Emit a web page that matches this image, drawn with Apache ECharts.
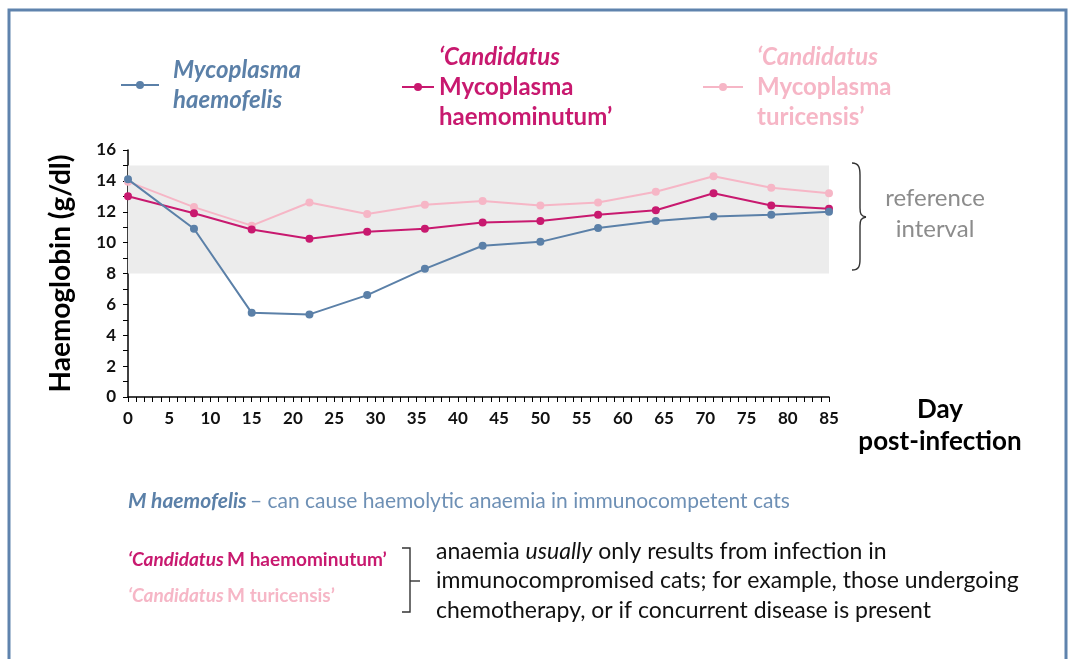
<!DOCTYPE html>
<html>
<head>
<meta charset="utf-8">
<script src="https://cdn.jsdelivr.net/npm/echarts@6/dist/echarts.min.js"></script>
<style>
  html, body { margin: 0; padding: 0; background: #fff; }
  #main { width: 1076px; height: 659px; }
</style>
</head>
<body>
<div id="main"></div>
<script>
// days sampled post infection
var days = [0, 8, 15, 22, 29, 36, 43, 50, 57, 64, 71, 78, 85];
// haemoglobin (g/dl)
var haemofelis = [14.1, 10.9, 5.45, 5.35, 6.6, 8.3, 9.8, 10.05, 10.95, 11.4, 11.7, 11.8, 12.0];
var haemominutum = [13.0, 11.9, 10.85, 10.25, 10.7, 10.9, 11.3, 11.4, 11.8, 12.1, 13.2, 12.4, 12.2];
var turicensis = [13.95, 12.3, 11.1, 12.6, 11.85, 12.45, 12.7, 12.4, 12.6, 13.3, 14.3, 13.55, 13.2];
var refInterval = [8, 15];

var names = ['Mycoplasma haemofelis', '\u2018Candidatus Mycoplasma haemominutum\u2019', '\u2018Candidatus Mycoplasma turicensis\u2019'];
var colors = ['#5b80a8', '#c8196f', '#f6b6c6'];
var FONT = 'Lato';

function pairs(vals) {
    return days.map(function (d, i) { return [d, vals[i]]; });
}

var chartDom = document.getElementById('main');
var myChart = echarts.init(chartDom);

function legendRich(color) {
    return {
        i: { fontFamily: FONT, fontSize: 24, fontWeight: 'bold', fontStyle: 'italic', color: color, lineHeight: 30 },
        n: { fontFamily: FONT, fontSize: 24, fontWeight: 'bold', color: color, lineHeight: 30 }
    };
}

function makeLegend(idx, left, top, w, pad, fmt) {
    return {
        data: [names[idx]],
        left: left,
        top: top,
        itemWidth: w,
        itemHeight: 10,
        formatter: function () { return fmt; },
        textStyle: { rich: legendRich(colors[idx]), padding: [0, 0, 0, pad] }
    };
}

function makeSeries(idx, vals) {
    return {
        name: names[idx],
        type: 'line',
        data: pairs(vals),
        symbol: 'circle',
        symbolSize: 8,
        color: colors[idx],
        lineStyle: { width: 2, color: colors[idx] },
        itemStyle: { color: colors[idx] },
        z: 10 - idx
    };
}

var series = [
    makeSeries(2, turicensis),
    makeSeries(1, haemominutum),
    makeSeries(0, haemofelis)
];
// grey band for reference interval
series[0].markArea = {
    silent: true,
    itemStyle: { color: '#ececec' },
    data: [[{ xAxis: 0, yAxis: refInterval[0] }, { xAxis: 86, yAxis: refInterval[1] }]]
};

var braceStyle = { fill: 'none', stroke: '#333', lineWidth: 1.4 };
function bez(x1, y1, cx1, cy1, cx2, cy2, x2, y2) {
    return { type: 'bezierCurve', silent: true, style: braceStyle,
        shape: { x1: x1, y1: y1, cpx1: cx1, cpy1: cy1, cpx2: cx2, cpy2: cy2, x2: x2, y2: y2 } };
}
function seg(x1, y1, x2, y2) {
    return { type: 'line', silent: true, style: braceStyle, shape: { x1: x1, y1: y1, x2: x2, y2: y2 } };
}

var option = {
    animation: false,
    grid: { left: 128, right: 247, top: 150, bottom: 262 },
    legend: [
        makeLegend(0, 115, 53, 38, 9, '{i|Mycoplasma}\n{i|haemofelis}'),
        makeLegend(1, 396, 40, 32, 0, '{i|\u2018Candidatus}\n{n|Mycoplasma}\n{n|haemominutum\u2019}'),
        makeLegend(2, 697, 40, 40, 9, '{i|\u2018Candidatus}\n{n|Mycoplasma}\n{n|turicensis\u2019}')
    ],
    xAxis: {
        type: 'value',
        min: 0,
        max: 85,
        interval: 5,
        axisLine: { show: true, lineStyle: { color: '#000', width: 1.5 } },
        axisTick: { show: true, length: 5, lineStyle: { color: '#000' } },
        minorTick: { show: true, splitNumber: 5, length: 5, lineStyle: { color: '#000' } },
        splitLine: { show: false },
        axisLabel: { color: '#111', fontFamily: FONT, fontWeight: 'bold', fontSize: 17, margin: 13 }
    },
    yAxis: {
        type: 'value',
        min: 0,
        max: 16,
        interval: 2,
        name: 'Haemoglobin (g/dl)',
        nameLocation: 'middle',
        nameGap: 53,
        nameTextStyle: { color: '#000', fontFamily: FONT, fontWeight: 'bold', fontSize: 28 },
        axisLine: { show: true, lineStyle: { color: '#000', width: 1.5 } },
        axisTick: { show: true, length: 5, lineStyle: { color: '#000' } },
        minorTick: { show: true, splitNumber: 2, length: 5, lineStyle: { color: '#000' } },
        splitLine: { show: false },
        axisLabel: { color: '#111', fontFamily: FONT, fontWeight: 'bold', fontSize: 17, margin: 12 }
    },
    graphic: [
        // frame
        { type: 'rect', shape: { x: 9, y: 10, width: 1057, height: 700 }, style: { fill: 'none', stroke: '#5f83ad', lineWidth: 3 }, silent: true },
        // brace for reference interval
        bez(852, 163, 859, 163, 860, 168, 860, 175),
        seg(860, 175, 860, 208),
        bez(860, 208, 860, 214, 861, 216, 866, 217),
        bez(866, 217, 861, 218, 860, 220, 860, 226),
        seg(860, 226, 860, 259),
        bez(860, 259, 860, 266, 859, 270, 852, 270),
        { type: 'text', x: 935, y: 198, style: { text: 'reference', fill: '#8c8c8c', font: '24px ' + FONT, align: 'center', verticalAlign: 'middle' } },
        { type: 'text', x: 935, y: 229, style: { text: 'interval', fill: '#8c8c8c', font: '24px ' + FONT, align: 'center', verticalAlign: 'middle' } },
        // x-axis title
        { type: 'text', x: 940, y: 410, style: { text: 'Day', fill: '#000', font: 'bold 26px ' + FONT, align: 'center', verticalAlign: 'middle' } },
        { type: 'text', x: 940, y: 442, style: { text: 'post-infection', fill: '#000', font: 'bold 26px ' + FONT, align: 'center', verticalAlign: 'middle' } },
        // notes
        { type: 'text', x: 128, y: 501, style: {
            text: '{b|M haemofelis} {r|\u2013 can cause haemolytic anaemia in immunocompetent cats}',
            verticalAlign: 'middle',
            rich: {
                b: { fill: '#5b80a8', fontFamily: FONT, fontSize: 21, fontWeight: 'bold', fontStyle: 'italic' },
                r: { fill: '#6e90b5', fontFamily: FONT, fontSize: 21 }
            } } },
        { type: 'text', x: 128, y: 560, style: {
            text: '{i|\u2018Candidatus} {n|M haemominutum\u2019}',
            verticalAlign: 'middle',
            rich: {
                i: { fill: '#c8196f', fontFamily: FONT, fontSize: 19, fontWeight: 'bold', fontStyle: 'italic' },
                n: { fill: '#c8196f', fontFamily: FONT, fontSize: 19, fontWeight: 'bold' }
            } } },
        { type: 'text', x: 128, y: 596, style: {
            text: '{i|\u2018Candidatus} {n|M turicensis\u2019}',
            verticalAlign: 'middle',
            rich: {
                i: { fill: '#f6b6c6', fontFamily: FONT, fontSize: 19, fontWeight: 'bold', fontStyle: 'italic' },
                n: { fill: '#f6b6c6', fontFamily: FONT, fontSize: 19, fontWeight: 'bold' }
            } } },
        { type: 'polyline', silent: true, shape: { points: [[402, 548], [410, 548], [410, 612], [402, 612]] }, style: braceStyle },
        seg(410, 581, 420, 581),
        { type: 'text', x: 436, y: 581, style: {
            text: '{n|anaemia }{i|usually}{n| only results from infection in}\n{n|immunocompromised cats; for example, those undergoing}\n{n|chemotherapy, or if concurrent disease is present}',
            verticalAlign: 'middle',
            rich: {
                n: { fill: '#111', fontFamily: FONT, fontSize: 23, lineHeight: 29.5 },
                i: { fill: '#111', fontFamily: FONT, fontSize: 23, fontStyle: 'italic', lineHeight: 29.5 }
            } } }
    ],
    series: series
};

myChart.setOption(option);
</script>
</body>
</html>
